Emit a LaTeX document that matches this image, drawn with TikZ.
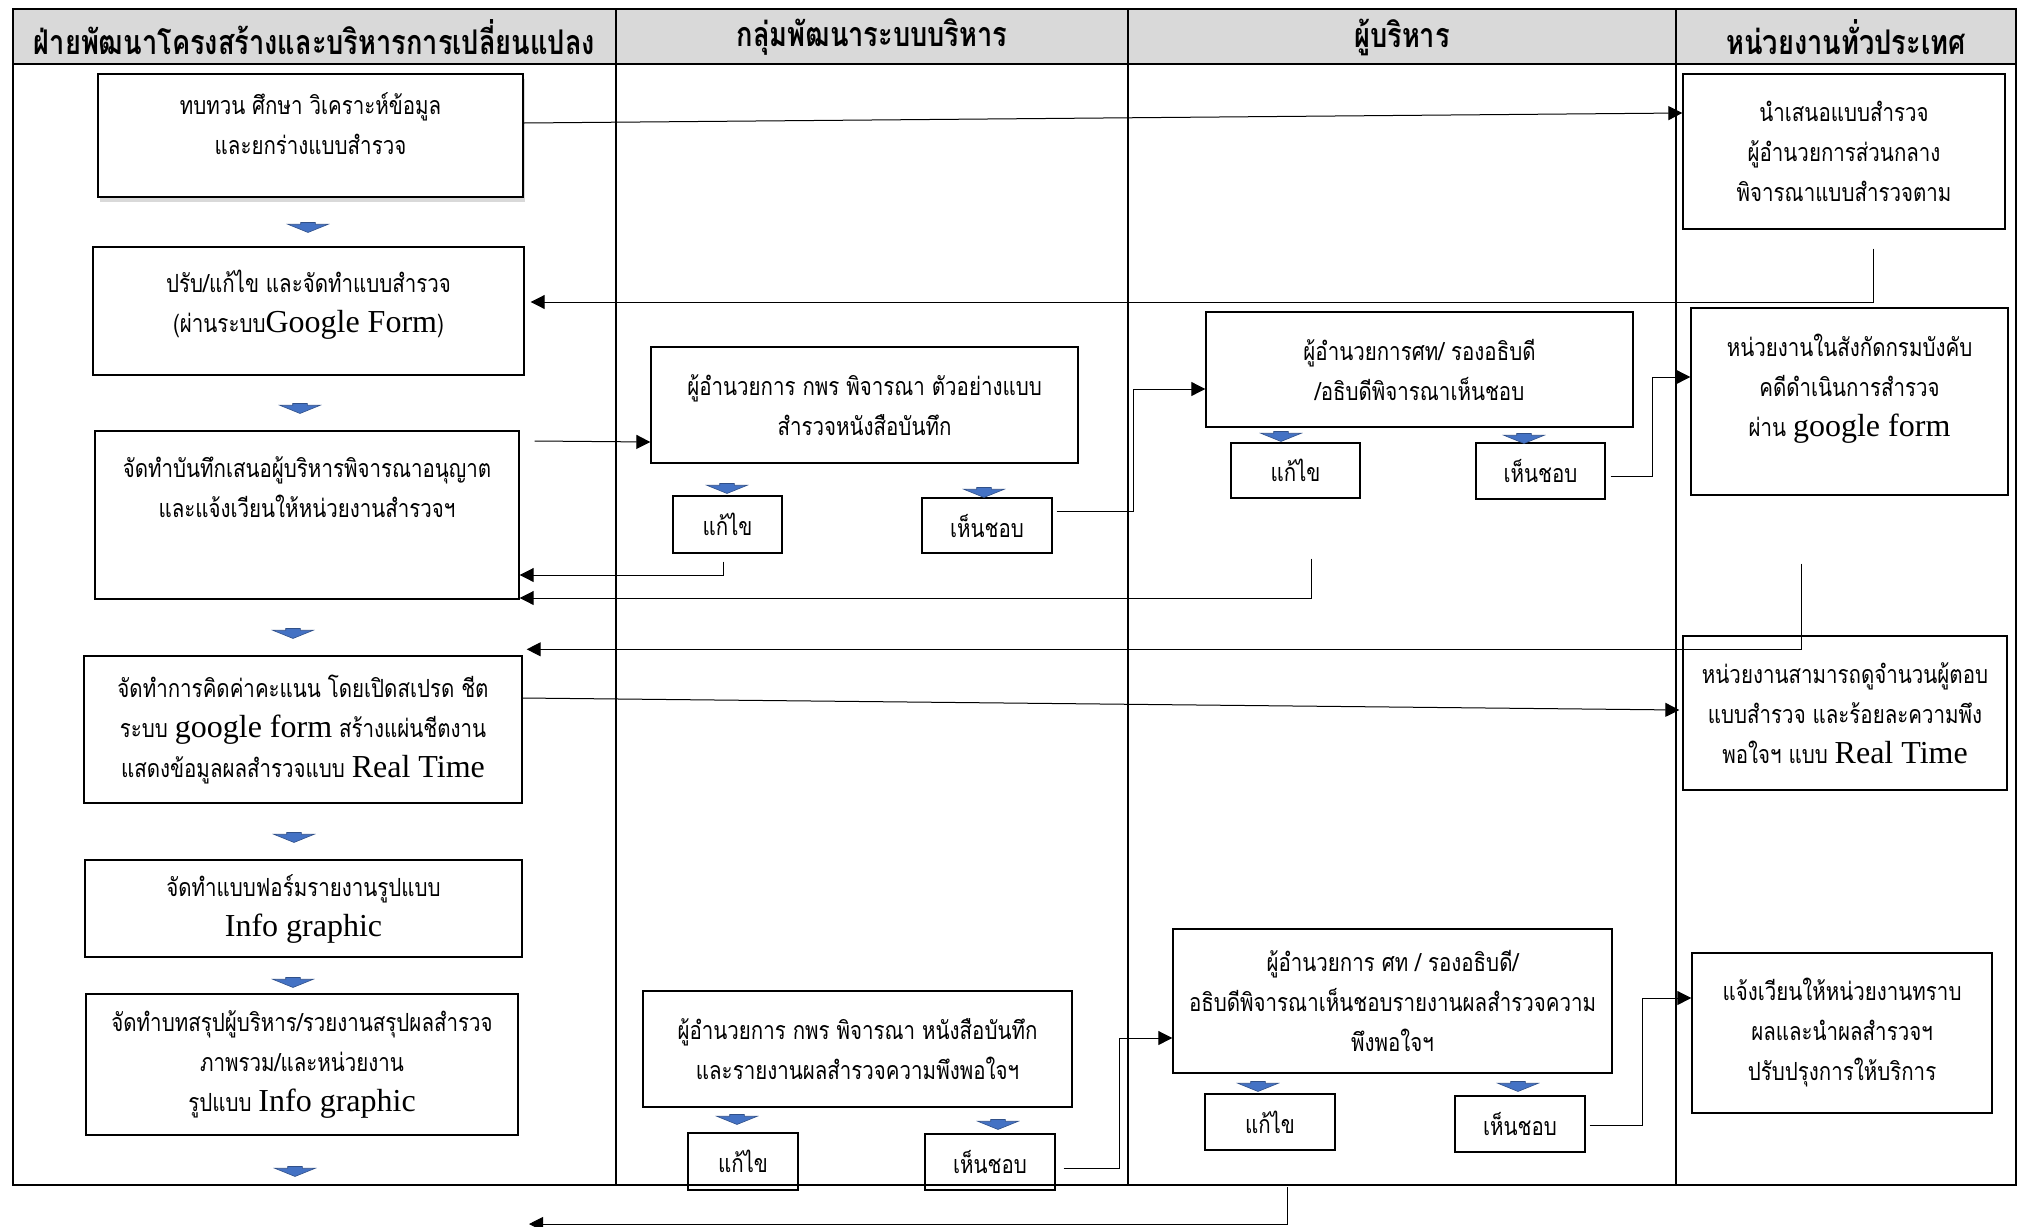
\documentclass[tikz,border=0pt]{standalone}
\usepackage{fontspec}
\usepackage{xcolor}
\usepackage{tikz}
\usetikzlibrary{arrows.meta,shapes.arrows,shadows}
\setmainfont[Script=Thai,FakeStretch=0.82]{Loma}
\newfontfamily\hdfont[Script=Thai,FakeStretch=0.8]{Loma}
\newfontfamily\latfont{Liberation Serif}
\newcommand{\en}[1]{{\latfont\fontsize{16}{20}\selectfont #1}}
\newcommand{\lift}[1]{\rule[-#1]{0pt}{#1}}
\definecolor{hdgray}{RGB}{217,217,217}
\definecolor{arrblue}{RGB}{68,114,196}

\begin{document}
\begin{tikzpicture}[x=0.5pt,y=-0.5pt,font=\fontsize{12.5}{20}\selectfont,
  box/.style={draw,line width=0.7pt,align=center,inner sep=2pt},
  blk/.style={single arrow,rotate=-90,fill=arrblue,draw=arrblue!70!black,line width=0.3pt,
    inner xsep=1.6pt,inner ysep=3.5pt,single arrow head extend=6.5pt,single arrow tip angle=136},
  conn/.style={line width=0.5pt,-{Triangle[length=7pt,width=7pt]}},
  grid/.style={line width=1.2pt},
  hd/.style={font=\hdfont\bfseries\fontsize{17}{20}\selectfont}]
  \useasboundingbox (0,0) rectangle (2022,1226);
  % table and header
  \fill[hdgray] (13,9) rectangle (2016,64);
  \draw[grid] (13,9) rectangle (2016,1185);
  \draw[grid] (13,64) -- (2016,64);
  \foreach \x in {616,1128,1676} \draw[grid] (\x,9) -- (\x,1185);
  \node[hd] (h1) at (314.5,37) {ฝ่ายพัฒนาโครงสร้างและบริหารการเปลี่ยนแปลง};
  \node[hd] (h2) at (872,37) {กลุ่มพัฒนาระบบบริหาร};
  \node[hd] (h3) at (1402,37) {ผู้บริหาร};
  \node[hd] (h4) at (1846,37) {หน่วยงานทั่วประเทศ};
  % column 1
  \node[box,line width=1.1pt,fill=white,drop shadow={shadow xshift=1pt,shadow yshift=-2.5pt,opacity=0.3},
    minimum width=212.5pt,minimum height=61.5pt] (rev) at (310.5,135.5)
    {ทบทวน ศึกษา วิเคราะห์ข้อมูล\\และยกร่างแบบสำรวจ\lift{12pt}};
  \node[box,minimum width=215.5pt,minimum height=64pt] (adj) at (308.5,311)
    {ปรับ/แก้ไข และจัดทำแบบสำรวจ\\(ผ่านระบบ\en{Google Form})\lift{10pt}};
  \node[box,minimum width=212pt,minimum height=84pt] (memo) at (307,515)
    {จัดทำบันทึกเสนอผู้บริหารพิจารณาอนุญาต\\และแจ้งเวียนให้หน่วยงานสำรวจฯ\lift{28pt}};
  \node[box,minimum width=219pt,minimum height=73.5pt] (score) at (303,729.5)
    {จัดทำการคิดค่าคะแนน โดยเปิดสเปรด ชีต\\ระบบ \en{google form} สร้างแผ่นชีตงาน\\แสดงข้อมูลผลสำรวจแบบ \en{Real Time}};
  \node[box,line width=0.9pt,minimum width=218.5pt,minimum height=48.5pt] (info) at (303.5,908.5)
    {จัดทำแบบฟอร์มรายงานรูปแบบ\\\en{Info graphic}};
  \node[box,line width=0.9pt,minimum width=216pt,minimum height=70.5pt] (summ) at (302,1064.5)
    {จัดทำบทสรุปผู้บริหาร/รวยงานสรุปผลสำรวจ\\ภาพรวม/และหน่วยงาน\\รูปแบบ \en{Info graphic}};
  \foreach \x/\y [count=\i] in {308/226,300/407,293/632,294/836,293/981,295/1170}
    \node[blk] (d\i) at (\x,\y) {};
  % column 2
  \node[box,minimum width=213.5pt,minimum height=58pt] (gpr1) at (864.5,405)
    {ผู้อำนวยการ กพร พิจารณา ตัวอย่างแบบ\\สำรวจหนังสือบันทึก};
  \node[box,minimum width=54.5pt,minimum height=28.5pt] (g1fix) at (727.5,524.5) {แก้ไข};
  \node[box,minimum width=65pt,minimum height=27.5pt] (g1ok) at (987,525.5) {เห็นชอบ};
  \node[box,minimum width=214.5pt,minimum height=58pt] (gpr2) at (857.5,1049)
    {ผู้อำนวยการ กพร พิจารณา หนังสือบันทึก\\และรายงานผลสำรวจความพึงพอใจฯ};
  \node[box,minimum width=55pt,minimum height=28.5pt] (g2fix) at (743,1161.5) {แก้ไข};
  \node[box,minimum width=65pt,minimum height=28pt] (g2ok) at (990,1162) {เห็นชอบ};
  \foreach \x/\y [count=\i] in {727/487,984/491,737/1118,998/1123}
    \node[blk] (g\i) at (\x,\y) {};
  % column 3
  \node[box,minimum width=213.5pt,minimum height=57.5pt] (exec1) at (1419.5,369.5)
    {ผู้อำนวยการศท/ รองอธิบดี\\/อธิบดีพิจารณาเห็นชอบ};
  \node[box,minimum width=64.5pt,minimum height=27.5pt] (e1fix) at (1295.5,470.5) {แก้ไข};
  \node[box,minimum width=64.5pt,minimum height=28pt] (e1ok) at (1540.5,471) {เห็นชอบ};
  \node[box,minimum width=219.5pt,minimum height=72pt] (exec2) at (1392.5,1001)
    {ผู้อำนวยการ ศท / รองอธิบดี/\\อธิบดีพิจารณาเห็นชอบรายงานผลสำรวจความ\\พึงพอใจฯ};
  \node[box,minimum width=65pt,minimum height=28pt] (e2fix) at (1270,1122) {แก้ไข};
  \node[box,minimum width=65pt,minimum height=28pt] (e2ok) at (1520,1124) {เห็นชอบ};
  \foreach \x/\y [count=\i] in {1281/435,1524/437,1258/1085,1518/1085}
    \node[blk] (e\i) at (\x,\y) {};
  % column 4
  \node[box,minimum width=161pt,minimum height=77.5pt] (unit1) at (1844,151.5)
    {นำเสนอแบบสำรวจ\\ผู้อำนวยการส่วนกลาง\\พิจารณาแบบสำรวจตาม};
  \node[box,minimum width=158.5pt,minimum height=93.5pt] (unit2) at (1849.5,401.5)
    {หน่วยงานในสังกัดกรมบังคับ\\คดีดำเนินการสำรวจ\\ผ่าน \en{google form}\lift{16pt}};
  \node[box,minimum width=162pt,minimum height=77pt] (unit3) at (1845,713)
    {หน่วยงานสามารถดูจำนวนผู้ตอบ\\แบบสำรวจ และร้อยละความพึง\\พอใจฯ แบบ \en{Real Time}};
  \node[box,minimum width=150pt,minimum height=80pt] (unit4) at (1842,1033)
    {แจ้งเวียนให้หน่วยงานทราบ\\ผลและนำผลสำรวจฯ\\ปรับปรุงการให้บริการ};
  % connectors
  \draw[conn] ([shift={(0,-12.5)}]rev.east) -- ([shift={(0,-38.5)}]unit1.west);
  \draw[conn] ([shift={(29,19)}]unit1.south) |- ([shift={(6,-9)}]adj.east);
  \draw[conn] ([shift={(15,-74)}]memo.east) -- ([shift={(0,37)}]gpr1.west);
  \draw[conn] ([shift={(-4.5,8)}]g1fix.south) |- ([shift={(0,60)}]memo.east);
  \draw[conn] ([shift={(15.5,60)}]e1fix.south) |- ([shift={(0,83)}]memo.east);
  \draw[conn] ([shift={(4,-14.5)}]g1ok.east) -- ++(77,0) |- ([shift={(0,19.5)}]exec1.west);
  \draw[conn] ([shift={(5,5)}]e1ok.east) -- ++(42,0) |- ([shift={(0,-24.5)}]unit2.west);
  \draw[conn] ([shift={(-48.5,68)}]unit2.south) |- ([shift={(4,-6)}]score.north east);
  \draw[conn] ([shift={(0,-31.5)}]score.east) -- ([shift={(-3,-3)}]unit3.west);
  \draw[conn] ([shift={(8,6)}]g2ok.east) -- ++(56,0) |- ([shift={(0,37)}]exec2.west);
  \draw[conn] ([shift={(4,1)}]e2ok.east) -- ++(53,0) |- ([shift={(0,-35)}]unit4.west);
  \coordinate (bt) at (1287,1187);
  \coordinate (bl) at (529,1224);
  \draw[conn] (bt) |- (bl);
\end{tikzpicture}
\end{document}
